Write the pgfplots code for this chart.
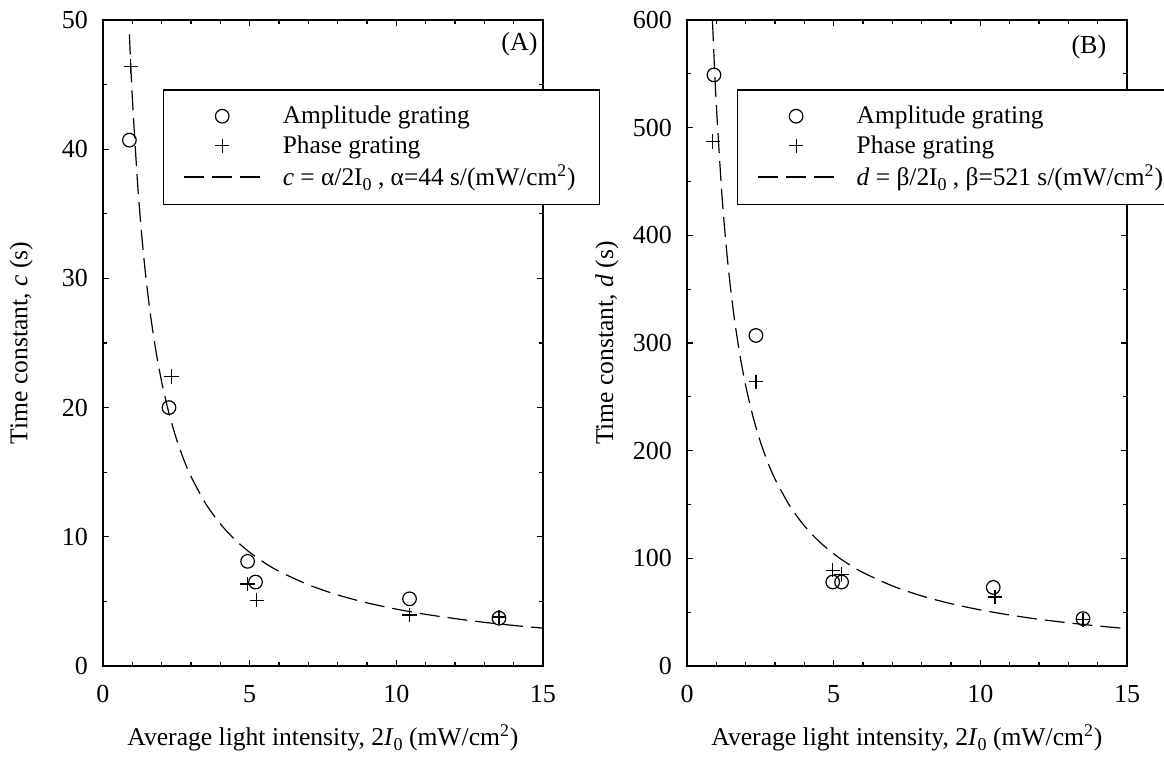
\documentclass[border=0pt]{standalone}
\usepackage{fontspec}
\setmainfont{Liberation Serif}
\usepackage{pgfplots}
\pgfplotsset{compat=1.18}

\newcommand{\lblfont}{\fontsize{12.8}{15}\selectfont}
\newcommand{\lsub}[1]{\raisebox{-0.45ex}{\fontsize{9}{10}\selectfont #1}}
\pgfplotsset{
  myleg/.style={legend image code/.code={%
    \draw[mark repeat=2,mark phase=2,##1] plot coordinates {(0pt,0pt) (19pt,0pt) (38pt,0pt)};}},
  panel/.style={
    scale only axis, width=220pt, height=323pt,
    xmin=0, xmax=15, xtick={0,5,10,15}, minor x tick num=4,
    minor y tick num=1,
    axis line style={line width=1.2pt},
    every tick/.style={black, line width=0.6pt},
    major tick length=3pt, minor tick length=2pt,
    tick align=inside,
    /pgf/number format/assume math mode=true,
    tick label style={font=\fontsize{13}{15}\selectfont},
    xticklabel style={yshift=-6pt},
    yticklabel style={xshift=-4pt},
    label style={font=\lblfont},
    xlabel style={at={(axis description cs:0.5,-0.111)}, anchor=center},
    legend style={anchor=north west, draw=black, line width=0.8pt, fill=white,
      inner xsep=10pt, inner ysep=6pt, font=\fontsize{12.7}{14}\selectfont, cells={anchor=west},
      row sep=0.5pt,
      /tikz/every odd column/.append style={column sep=9pt}},
    circ/.style={only marks, mark=o, mark size=3.4pt, line width=0.6pt, black, myleg},
    plus/.style={only marks, mark=+, mark size=3.6pt, line width=0.6pt, black, myleg},
    fit/.style={no marks, smooth, black, line width=0.6pt, dash pattern=on 10pt off 4pt, myleg},
  },
}

\begin{document}
\begin{tikzpicture}

% (A) time constant c
\begin{axis}[panel,
  ymin=0, ymax=50, ytick={0,10,20,30,40,50},
  ylabel={Time constant, \textit{c} (s)},
  ylabel style={at={(axis description cs:-0.186,0.5)}, anchor=center},
  xlabel={Average light intensity, 2\textit{I}\lsub{0} (mW/cm\textsuperscript{2})},
  legend style={at={(axis description cs:0.136,0.893)}},
]
\addplot[circ] coordinates {(0.9,40.7) (2.25,20.0) (4.93,8.1) (5.2,6.5) (10.45,5.2) (13.5,3.7)};
\addlegendentry{Amplitude grating}
\addplot[plus] coordinates {(0.95,46.4) (2.33,22.4) (4.93,6.35) (5.24,5.1) (10.45,3.95) (13.5,3.8)};
\addlegendentry{Phase grating}
\addplot[fit] coordinates {
  (0.9,48.89) (1.0,44) (1.2,36.67) (1.4,31.43) (1.6,27.5) (1.8,24.44) (2.0,22)
  (2.25,19.56) (2.5,17.6) (2.75,16) (3,14.67) (3.5,12.57) (4,11) (4.5,9.78)
  (5,8.8) (5.5,8) (6,7.33) (7,6.29) (8,5.5) (9,4.89) (10,4.4) (11,4)
  (12,3.67) (13,3.38) (14,3.14) (15,2.93)};
\addlegendentry{\textit{c} = α/2I\lsub{0} , α=44 s/(mW/cm\textsuperscript{2})}
\node[font=\fontsize{13}{15}\selectfont] at (axis cs:14.2,48.1) {(A)};
\end{axis}

% (B) time constant d
\begin{axis}[panel, at={(292pt,0pt)},
  ymin=0, ymax=600, ytick={0,100,200,300,400,500,600},
  ylabel={Time constant, \textit{d} (s)},
  ylabel style={at={(axis description cs:-0.182,0.5)}, anchor=center},
  xlabel={Average light intensity, 2\textit{I}\lsub{0} (mW/cm\textsuperscript{2})},
  legend style={at={(axis description cs:0.113,0.893)}},
]
\addplot[circ] coordinates {(0.92,549) (2.35,307) (4.97,78) (5.27,78) (10.44,73) (13.5,44)};
\addlegendentry{Amplitude grating}
\addplot[plus] coordinates {(0.88,487) (2.35,264) (4.97,89) (5.27,85) (10.5,64) (13.5,43)};
\addlegendentry{Phase grating}
\addplot[fit] coordinates {
  (0.87,598.9) (0.9,578.9) (1.0,521) (1.2,434.2) (1.4,372.1) (1.6,325.6) (1.8,289.4)
  (2.0,260.5) (2.25,231.6) (2.5,208.4) (2.75,189.5) (3,173.7) (3.5,148.9) (4,130.25)
  (4.5,115.8) (5,104.2) (5.5,94.7) (6,86.8) (7,74.4) (8,65.1) (9,57.9) (10,52.1)
  (11,47.4) (12,43.4) (13,40.1) (14,37.2) (15,34.7)};
\addlegendentry{\textit{d} = β/2I\lsub{0} , β=521 s/(mW/cm\textsuperscript{2})}
\node[font=\fontsize{13}{15}\selectfont] at (axis cs:13.7,575) {(B)};
\end{axis}

\pgfresetboundingbox
\path[use as bounding box] (-51.5pt,-50pt) rectangle (530.5pt,333pt);
\end{tikzpicture}
\end{document}
